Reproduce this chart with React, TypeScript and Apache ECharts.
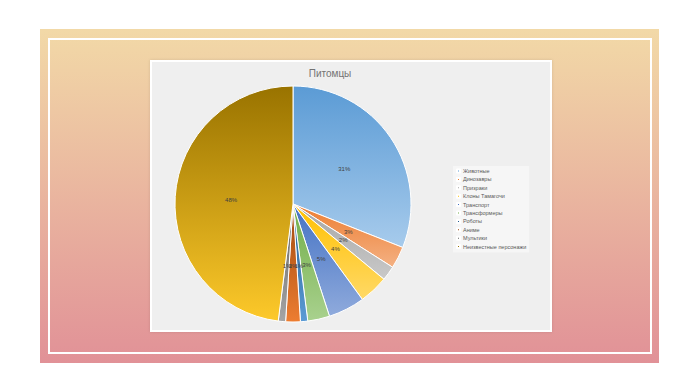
import React, { useEffect, useRef } from "react";
import * as echarts from "echarts";

const titleText = "Питомцы";
const categories = [
  "Животные",
  "Динозавры",
  "Призраки",
  "Клоны Тамагочи",
  "Транспорт",
  "Трансформеры",
  "Роботы",
  "Аниме",
  "Мультики",
  "Неизвестные персонажи",
];
const values = [31, 3, 2, 4, 5, 3, 1, 2, 1, 48];
const topColors = [
  "#5b9bd5",
  "#ed7d31",
  "#a5a5a5",
  "#ffc000",
  "#4472c4",
  "#70ad47",
  "#255e91",
  "#9e480e",
  "#636363",
  "#997300",
];
const bottomColors = [
  "#a7cbec",
  "#f4b183",
  "#c9c9c9",
  "#ffd966",
  "#8faadc",
  "#a9d18e",
  "#5b9bd5",
  "#ed7d31",
  "#a5a5a5",
  "#fdc92a",
];

export default function App() {
  const ref = useRef<HTMLDivElement>(null);

  useEffect(() => {
    if (!ref.current) return;
    const chart = echarts.init(ref.current, undefined, { renderer: "svg" });
    const data = categories.map((name, i) => ({
      name,
      value: values[i],
      itemStyle: {
        color: new echarts.graphic.LinearGradient(0, 0, 0, 1, [
          { offset: 0, color: topColors[i] },
          { offset: 1, color: bottomColors[i] },
        ]),
      },
    }));
    chart.setOption({
      animation: false,
      graphic: [
        {
          type: "rect",
          z: -30,
          shape: { x: 40, y: 29, width: 619, height: 334 },
          style: {
            fill: new echarts.graphic.LinearGradient(0, 0, 0, 1, [
              { offset: 0, color: "#f2d9a7" },
              { offset: 1, color: "#e19197" },
            ]),
          },
        },
        {
          type: "rect",
          z: -29,
          shape: { x: 49, y: 39, width: 602, height: 314 },
          style: { fill: "none", stroke: "#ffffff", lineWidth: 2 },
        },
        {
          type: "rect",
          z: -28,
          shape: { x: 151, y: 61, width: 400, height: 270 },
          style: {
            fill: "#efefef",
            stroke: "#ffffff",
            lineWidth: 2,
            shadowBlur: 3,
            shadowColor: "rgba(0,0,0,0.12)",
          },
        },
        {
          type: "text",
          z: 10,
          x: 330,
          y: 73.5,
          style: {
            text: titleText,
            fill: "#737373",
            fontSize: 10,
            fontFamily: "Liberation Sans, Arial, sans-serif",
            align: "center",
            verticalAlign: "middle",
          },
        },
      ],
      legend: {
        orient: "vertical",
        left: 453,
        top: 166,
        backgroundColor: "#f6f6f6",
        padding: [2, 3, 3, 3],
        itemGap: 2.4,
        itemWidth: 3,
        itemHeight: 3,
        icon: "rect",
        textStyle: {
          fontSize: 5.5,
          lineHeight: 6,
          color: "#595959",
          fontFamily: "Liberation Sans, Arial, sans-serif",
          padding: [0, 0, 0, -2],
        },
        data: categories.map((name, i) => ({ name, itemStyle: { color: topColors[i] } })),
      },
      series: [
        {
          type: "pie",
          center: [293, 204],
          radius: 118,
          startAngle: 90,
          clockwise: true,
          avoidLabelOverlap: false,
          minShowLabelAngle: 0,
          labelLayout: { hideOverlap: false },
          itemStyle: { borderColor: "#ffffff", borderWidth: 1 },
          label: {
            show: true,
            position: "inside",
            fontSize: 6,
            overflow: "none",
            color: "#404040",
            fontFamily: "Liberation Sans, Arial, sans-serif",
            formatter: (p: any) => Math.round(p.percent) + "%",
          },
          labelLine: { show: false },
          emphasis: { disabled: true },
          data,
        },
      ],
    });
    return () => chart.dispose();
  }, []);

  return (
    <div
      ref={ref}
      style={{ position: "absolute", left: 0, top: 0, width: 700, height: 392, background: "#ffffff" }}
    />
  );
}
